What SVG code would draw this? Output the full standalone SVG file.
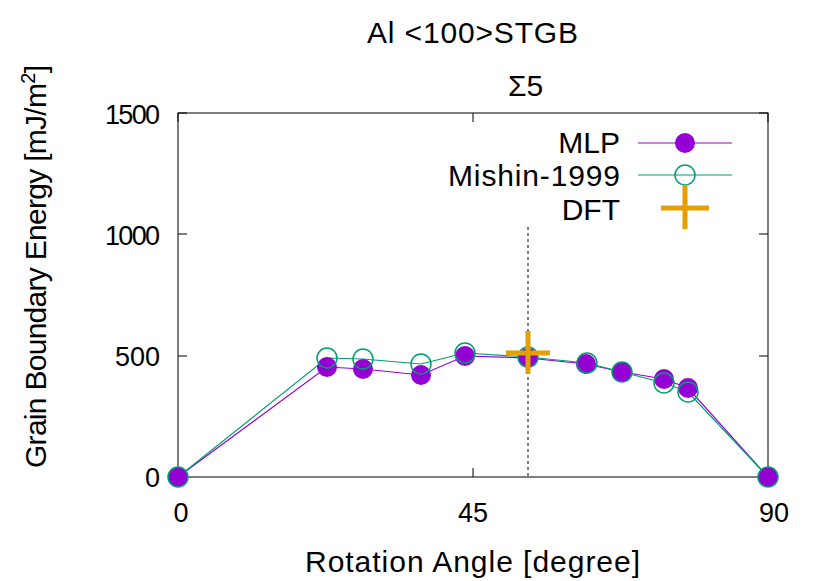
<svg xmlns="http://www.w3.org/2000/svg" width="830" height="581" viewBox="0 0 830 581">
<style>
text{font-family:"Liberation Sans",Arial,sans-serif;font-size:27px;fill:#000}
.big{font-size:30px}
.ax{stroke:#000;stroke-width:1;fill:none}
.mlp{fill:#9400d3;stroke:none}
.mis{fill:none;stroke:#009e73;stroke-width:1.5}
</style>
<rect width="830" height="581" fill="#fff"/>
<g id="frame">
<rect class="ax" x="178" y="113" width="590" height="364"/>
<path class="ax" d="M178,113h9M178,234h9M178,356h9M178,477h9M768,113h-9M768,234h-9M768,356h-9M768,477h-9M473,477v-9M473,113v9M178,113v9M768,113v9"/>
</g>
<g id="labels">
<text x="160" y="124" text-anchor="end" textLength="55">1500</text>
<text x="160" y="245" text-anchor="end" textLength="55">1000</text>
<text x="160" y="366" text-anchor="end">500</text>
<text x="160" y="487" text-anchor="end">0</text>
<text x="181" y="522" text-anchor="middle">0</text>
<text x="473" y="522" text-anchor="middle">45</text>
<text x="774" y="522" text-anchor="middle">90</text>
<text class="big" x="305" y="572" textLength="335">Rotation Angle [degree]</text>
<text class="big" x="367" y="43" textLength="211">Al &lt;100&gt;STGB</text>
<text class="big" x="508" y="96">Σ5</text>
<text class="big" transform="translate(46,468) rotate(-90)" textLength="403">Grain Boundary Energy [mJ/m<tspan font-size="20" dy="-11">2</tspan><tspan dy="11">]</tspan></text>
</g>
<g id="connectors">
<line x1="528" y1="227" x2="528" y2="477" stroke="#000" stroke-width="1" stroke-dasharray="3,3"/>
<polyline fill="none" stroke="#9400d3" stroke-width="1.2" points="178,477 327,367 363,369 421,375 465,356 528,358 586,364 622,372 664,379 688,388 768,477"/>
<polyline fill="none" stroke="#009e73" stroke-width="1.2" points="178,477 327,358 363,359 421,364 465,353 528,357 587,363 622,372 664,383 688,392 768,477"/>
</g>
<g id="mlp">
<circle class="mlp" cx="178" cy="477" r="10"/><circle class="mlp" cx="327" cy="367" r="10"/><circle class="mlp" cx="363" cy="369" r="10"/><circle class="mlp" cx="421" cy="375" r="10"/><circle class="mlp" cx="465" cy="356" r="10"/><circle class="mlp" cx="528" cy="358" r="10"/><circle class="mlp" cx="586" cy="364" r="10"/><circle class="mlp" cx="622" cy="372" r="10"/><circle class="mlp" cx="664" cy="379" r="10"/><circle class="mlp" cx="688" cy="388" r="10"/><circle class="mlp" cx="768" cy="477" r="10"/>
</g>
<g id="mishin">
<circle class="mis" cx="178" cy="477" r="10"/><circle class="mis" cx="327" cy="358" r="10"/><circle class="mis" cx="363" cy="359" r="10"/><circle class="mis" cx="421" cy="364" r="10"/><circle class="mis" cx="465" cy="353" r="10"/><circle class="mis" cx="528" cy="357" r="10"/><circle class="mis" cx="587" cy="363" r="10"/><circle class="mis" cx="622" cy="372" r="10"/><circle class="mis" cx="664" cy="383" r="10"/><circle class="mis" cx="688" cy="392" r="10"/><circle class="mis" cx="768" cy="477" r="10"/>
</g>
<g id="dft">
<path d="M506,353h44M528,331v43" stroke="#e69f00" stroke-width="5" fill="none"/>
</g>
<g id="legend">
<text class="big" x="620" y="153" text-anchor="end">MLP</text>
<line x1="638" y1="143" x2="732" y2="143" stroke="#9400d3" stroke-width="1.2"/>
<circle class="mlp" cx="685" cy="143" r="10"/>
<text class="big" x="620" y="186" text-anchor="end" textLength="172">Mishin-1999</text>
<line x1="638" y1="175" x2="732" y2="175" stroke="#009e73" stroke-width="1.2"/>
<circle class="mis" cx="685" cy="175" r="10"/>
<text class="big" x="620" y="220" text-anchor="end">DFT</text>
<path d="M661,208h48M685,186v43" stroke="#e69f00" stroke-width="5" fill="none"/>
</g>
</svg>
